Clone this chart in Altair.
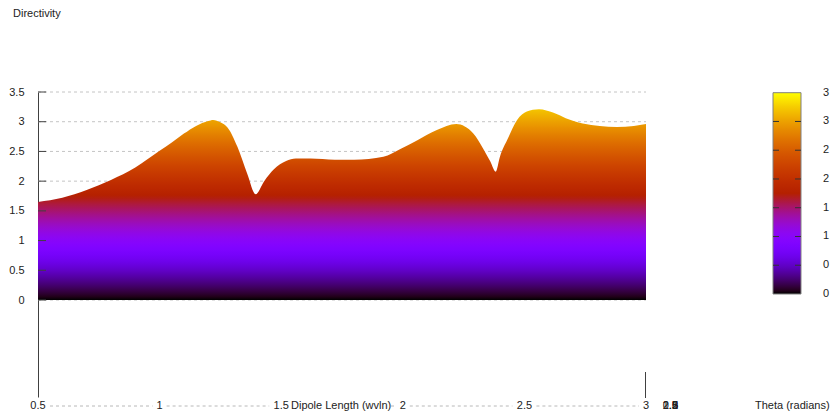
import math
import altair as alt
import pandas as pd

# ---- data ----
length = [0.5, 0.6, 0.7, 0.8, 0.9, 1.0, 1.05, 1.1, 1.15, 1.2, 1.22, 1.25, 1.28, 1.32,
          1.36, 1.395, 1.43, 1.47, 1.52, 1.56, 1.62, 1.72, 1.8, 1.92, 1.99, 2.06, 2.14,
          2.22, 2.29, 2.33, 2.36, 2.382, 2.40, 2.43, 2.47, 2.51, 2.56, 2.62, 2.67, 2.74,
          2.81, 2.88, 2.95, 3.0]
directivity = [1.65, 1.72, 1.85, 2.02, 2.23, 2.51, 2.65, 2.80, 2.93, 3.01, 3.03, 2.99,
               2.90, 2.58, 2.13, 1.78, 2.00, 2.20, 2.34, 2.38, 2.38, 2.36, 2.36, 2.41,
               2.54, 2.69, 2.86, 2.96, 2.80, 2.55, 2.33, 2.16, 2.42, 2.70, 3.03, 3.17,
               3.21, 3.15, 3.06, 2.97, 2.93, 2.91, 2.93, 2.96]
y_ticks = [0, 0.5, 1, 1.5, 2, 2.5, 3, 3.5]
x_ticks = [0.5, 1, 1.5, 2, 2.5, 3]
x_labels = ["0.5", "1", "1.5", "2", "2.5", "3"]
theta_ticks = ["0", "0.5", "1", "1.5", "2", "2.5", "3"]
cb_ticks = [0, 0.5, 1, 1.5, 2, 2.5, 3, 3.5]
CB_MAX = 3.5

FONT = "Liberation Sans"
TXT = "#222222"
W, H = 608, 305
X_DOM = [0.5, 3.0]
Y_DOM = [-1.632, 3.5]


def pal(x):
    x = min(1.0, max(0.0, x))
    r = math.sqrt(x)
    g = x ** 3
    b = max(0.0, math.sin(2 * math.pi * x))
    return "#%02x%02x%02x" % (round(255 * r), round(255 * g), round(255 * b))


zmax = max(directivity)
area_grad = alt.Gradient(
    gradient="linear",
    stops=[alt.GradientStop(offset=i / 60, color=pal(i / 60 * zmax / CB_MAX)) for i in range(61)],
    x1=0, x2=0, y1=1, y2=0,
)
cb_grad = alt.Gradient(
    gradient="linear",
    stops=[alt.GradientStop(offset=i / 60, color=pal(i / 60)) for i in range(61)],
    x1=0, x2=0, y1=1, y2=0,
)

xs = alt.Scale(domain=X_DOM, nice=False, zero=False)
ys = alt.Scale(domain=Y_DOM, nice=False, zero=False)

env = pd.DataFrame({"L": length, "D": directivity})
ydf = pd.DataFrame({"v": y_ticks})
xdf = pd.DataFrame({"v": x_ticks, "lab": x_labels})

# grid (behind surface) + y axis
grid = alt.Chart(ydf).mark_rule(color="#c4c4c4", strokeDash=[3, 3], strokeWidth=1).encode(
    y=alt.Y("v:Q", scale=ys, axis=alt.Axis(
        values=y_ticks, ticks=False, tickSize=0, grid=False, domainColor="#404040",
        labelPadding=14, labelFontSize=11, labelColor=TXT, labelFont=FONT, title=None,
        labelFlush=False, labelOverlap=False, labelExpr="toString(datum.value)")),
    x=alt.value(0), x2=alt.value(W),
)

surface = alt.Chart(env).mark_area(interpolate="monotone", color=area_grad).encode(
    x=alt.X("L:Q", scale=xs, axis=None),
    y=alt.Y("D:Q", scale=ys),
    y2=alt.datum(0),
)

yticks = alt.Chart(ydf).mark_rule(color="#404040").encode(
    y=alt.Y("v:Q", scale=ys), x=alt.value(0), x2=alt.value(8)
)

# bottom dashed baseline segments between labels
pxu = (X_DOM[1] - X_DOM[0]) / W
half = {"0.5": 8, "1": 3, "1.5": 8, "2": 3, "2.5": 8, "3": 3}
seg_s, seg_e = [], []
for i in range(len(x_ticks) - 1):
    s = x_ticks[i] + (half[x_labels[i]] + 4) * pxu
    if x_labels[i] == "1.5":
        s = x_ticks[i] + (391 - 38 - (x_ticks[i] - 0.5) / pxu) * pxu
    e = x_ticks[i + 1] - (half[x_labels[i + 1]] + 4) * pxu
    seg_s.append(s)
    seg_e.append(e)
segdf = pd.DataFrame({"s": seg_s, "e": seg_e})
segs = alt.Chart(segdf).mark_rule(color="#b8b8b8", strokeDash=[3, 3], strokeWidth=1).encode(
    x=alt.X("s:Q", scale=xs), x2="e:Q", y=alt.value(314)
)

xlab = alt.Chart(xdf).mark_text(fontSize=11, font=FONT, color=TXT, baseline="middle").encode(
    x=alt.X("v:Q", scale=xs), y=alt.value(314), text="lab:N"
)

xtitle = alt.Chart(pd.DataFrame({"t": ["Dipole Length (wvln)"]})).mark_text(
    fontSize=11, font=FONT, color=TXT, align="left", baseline="middle"
).encode(x=alt.value(253), y=alt.value(314), text="t:N")

thlab = alt.Chart(pd.DataFrame({"t": theta_ticks})).mark_text(
    fontSize=11, font=FONT, color=TXT, align="right", baseline="middle"
).encode(x=alt.value(640), y=alt.value(314), text="t:N")

thtitle = alt.Chart(pd.DataFrame({"t": ["Theta (radians)"]})).mark_text(
    fontSize=11, font=FONT, color=TXT, align="left", baseline="middle"
).encode(x=alt.value(717), y=alt.value(314), text="t:N")

ztitle = alt.Chart(pd.DataFrame({"t": ["Directivity"]})).mark_text(
    fontSize=11, font=FONT, color=TXT, align="left", baseline="middle"
).encode(x=alt.value(-25), y=alt.value(-78.5), text="t:N")

vline = alt.Chart(pd.DataFrame({"t": [0]})).mark_rule(color="#404040").encode(
    x=alt.value(607.5), y=alt.value(280), y2=alt.value(306)
)

main = alt.layer(grid, surface, yticks, segs, xlab, xtitle, thlab, thtitle, ztitle, vline)

# colour bar with its own vertical scale
cbs = alt.Scale(domain=[0, CB_MAX], range=[202, 0.7], nice=False, zero=False)
cbrect = alt.Chart(pd.DataFrame({"a": [0], "b": [CB_MAX]})).mark_rect(
    fill=cb_grad, stroke="#808080", strokeWidth=1
).encode(y=alt.Y("a:Q", scale=cbs, axis=None), y2="b:Q", x=alt.value(735), x2=alt.value(763))
cbin = pd.DataFrame({"v": cb_ticks[1:-1]})
cbt1 = alt.Chart(cbin).mark_rule(color="#333333").encode(
    y=alt.Y("v:Q", scale=cbs, axis=None), x=alt.value(735), x2=alt.value(741))
cbt2 = alt.Chart(cbin).mark_rule(color="#333333").encode(
    y=alt.Y("v:Q", scale=cbs, axis=None), x=alt.value(757), x2=alt.value(763))
cblab = alt.Chart(pd.DataFrame({"v": cb_ticks})).transform_calculate(
    lab="substring(toString(datum.v), 0, 1)"
).mark_text(fontSize=11, font=FONT, color=TXT, align="left", baseline="middle").encode(
    y=alt.Y("v:Q", scale=cbs, axis=None), x=alt.value(785), text="lab:N")

cbar = alt.layer(cbrect, cbt1, cbt2, cblab)

chart = alt.layer(main, cbar).resolve_scale(y="independent").properties(
    width=W, height=H,
    autosize=alt.AutoSizeParams(type="none"),
    padding={"left": 30, "top": 84, "right": 184, "bottom": 16},
    background="white",
).configure_view(stroke=None)

chart.save("out.html", embed_options={"renderer": "svg", "actions": False})
